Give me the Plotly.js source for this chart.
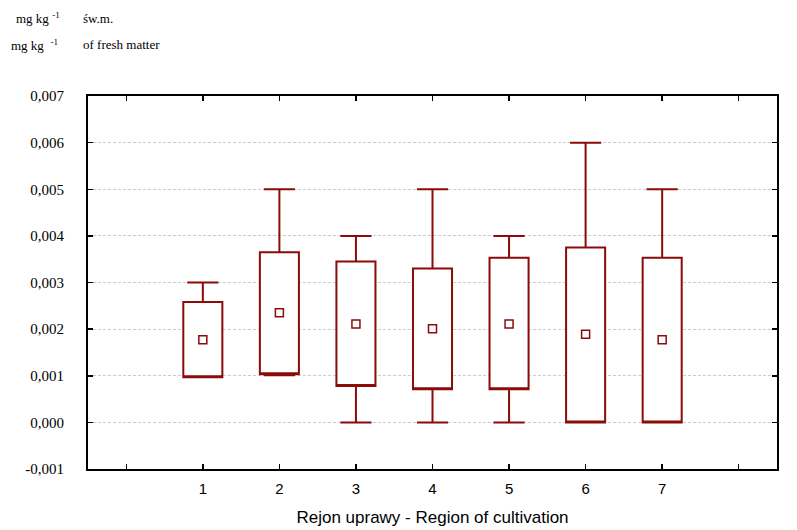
<!DOCTYPE html>
<html>
<head>
<meta charset="utf-8">
<script src="https://cdn.plot.ly/plotly-3.0.1.min.js"></script>
<style>html,body{margin:0;padding:0;background:#fff}#chart{width:797px;height:530px}</style>
</head>
<body>
<div id="chart"></div>
<script>
const regions = [1, 2, 3, 4, 5, 6, 7];
const q1 = [0.00097, 0.00103, 0.00078, 0.00071, 0.00071, 0.0, 0.0];
const q3 = [0.00258, 0.00365, 0.00345, 0.00330, 0.00353, 0.00375, 0.00353];
const minVals = [0.00097, 0.00101, 0.0, 0.0, 0.0, 0.0, 0.0];
const maxVals = [0.003, 0.005, 0.004, 0.005, 0.004, 0.006, 0.005];
const centerVals = [0.00177, 0.00235, 0.00211, 0.00201, 0.00211, 0.00189, 0.00177];

const xTickVals = [0, 1, 2, 3, 4, 5, 6, 7, 8];
const xTickText = ['', '1', '2', '3', '4', '5', '6', '7', ''];
const yTickVals = [-0.001, 0, 0.001, 0.002, 0.003, 0.004, 0.005, 0.006, 0.007];
const yTickText = ['-0,001', '0,000', '0,001', '0,002', '0,003', '0,004', '0,005', '0,006', '0,007'];

const red = '#8B0A0A';

const boxTrace = {
  type: 'box',
  x: regions,
  q1: q1,
  median: q1,
  q3: q3,
  lowerfence: minVals,
  upperfence: maxVals,
  boxpoints: false,
  width: 0.51,
  whiskerwidth: 0.8,
  fillcolor: '#ffffff',
  line: {color: red, width: 2},
  hoverinfo: 'skip',
  showlegend: false
};

const markTrace = {
  type: 'scatter',
  mode: 'markers',
  x: regions,
  y: centerVals,
  marker: {symbol: 'square-open', size: 8, color: red, line: {color: red, width: 1.5}},
  hoverinfo: 'skip',
  showlegend: false
};

const px = p => (p - 88) / 689;
const py = p => (530 - 61 - p) / 373;
const serif = '"Liberation Serif", "Times New Roman", serif';
const sans = '"Liberation Sans", Arial, sans-serif';

const layout = {
  width: 797, height: 530,
  margin: {l: 88, r: 20, t: 96, b: 61},
  paper_bgcolor: '#fff', plot_bgcolor: '#fff',
  showlegend: false,
  xaxis: {
    range: [-0.5, 8.5],
    tickvals: xTickVals, ticktext: xTickText,
    ticks: 'inside', ticklen: 5, tickwidth: 1.5, tickcolor: '#000',
    showline: true, linecolor: '#000', linewidth: 2, mirror: 'ticks',
    showgrid: false, zeroline: false,
    tickfont: {family: sans, size: 15, color: '#000'},
    ticklabelstandoff: 5,
    title: {text: 'Rejon uprawy - Region of cultivation', font: {family: sans, size: 17, color: '#000'}, standoff: 15},
    fixedrange: true
  },
  yaxis: {
    range: [-0.001, 0.007],
    tickvals: yTickVals, ticktext: yTickText,
    ticks: 'inside', ticklen: 5, tickwidth: 1.5, tickcolor: '#000',
    showline: true, linecolor: '#000', linewidth: 2, mirror: 'ticks',
    showgrid: true, gridcolor: '#cccccc', gridwidth: 1, griddash: '3px,2px',
    zeroline: false,
    tickfont: {family: serif, size: 15, color: '#000'},
    ticklabelstandoff: 19,
    fixedrange: true
  },
  annotations: [
    {text: 'mg kg <sup>-1</sup>', x: px(14), y: py(18), xref: 'paper', yref: 'paper', xanchor: 'left', yanchor: 'middle', showarrow: false, font: {family: serif, size: 13, color: '#000'}},
    {text: 'św.m.', x: px(81), y: py(18), xref: 'paper', yref: 'paper', xanchor: 'left', yanchor: 'middle', showarrow: false, font: {family: serif, size: 13, color: '#000'}},
    {text: 'mg kg &nbsp;<sup>-1</sup>', x: px(9), y: py(45), xref: 'paper', yref: 'paper', xanchor: 'left', yanchor: 'middle', showarrow: false, font: {family: serif, size: 13, color: '#000'}},
    {text: 'of fresh matter', x: px(81), y: py(45), xref: 'paper', yref: 'paper', xanchor: 'left', yanchor: 'middle', showarrow: false, font: {family: serif, size: 13, color: '#000'}}
  ]
};

Plotly.newPlot('chart', [boxTrace, markTrace], layout, {displayModeBar: false, staticPlot: true});
</script>
</body>
</html>
